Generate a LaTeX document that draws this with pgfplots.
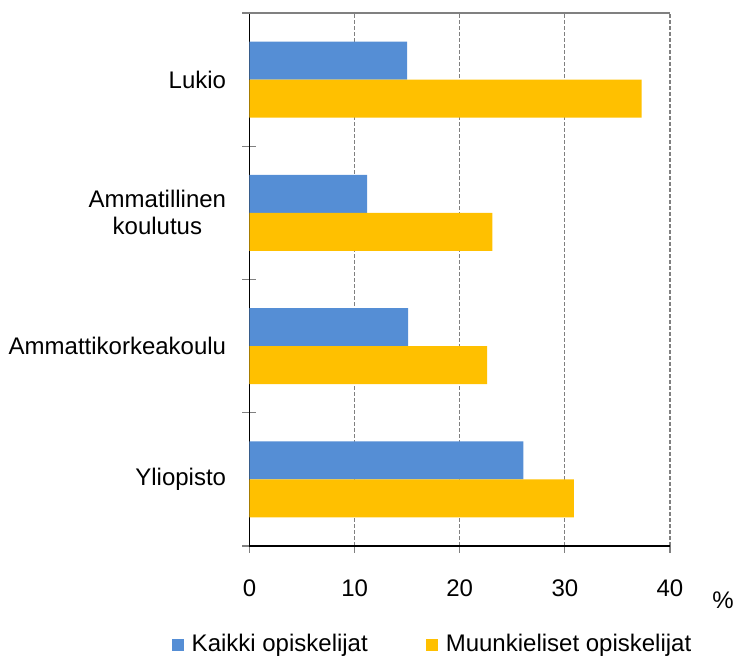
\documentclass[border=0pt]{standalone}
\usepackage{fontspec}
\setmainfont{Liberation Sans}
\usepackage{pgfplots}
\pgfplotsset{compat=1.18}
\definecolor{cblue}{RGB}{85,142,213}
\definecolor{cyellow}{RGB}{255,192,0}
\definecolor{gridgray}{RGB}{128,128,128}
\begin{document}
\fontsize{12}{13.5}\selectfont
\begin{tikzpicture}
\begin{axis}[
  scale only axis, width=210.25pt, height=266.5pt,
  xmin=0, xmax=40, ymin=-0.5, ymax=3.5,
  xbar, bar width=19pt,
  /pgf/number format/assume math mode=true,
  axis lines=left,
  axis line style={-, black, line width=0.6pt},
  xtick={0,10,20,30,40},
  ytick={0,1,2,3},
  yticklabels={Yliopisto, Ammattikorkeakoulu, {Ammatillinen\\koulutus}, Lukio},
  yticklabel style={align=center, xshift=-4pt, font=\fontsize{12}{13.5}\selectfont},
  xticklabel style={yshift=-9pt, font=\fontsize{12}{13.5}\selectfont},
  minor ytick={-0.5,0.5,1.5,2.5,3.5},
  tick align=outside,
  major tick length=3.5pt,
  minor tick length=7pt,
  major y tick style={draw=none},
  minor y tick style={gridgray, line width=0.6pt, xshift=3.5pt},
  major x tick style={gridgray, line width=0.6pt},
  xmajorgrids,
  major x grid style={gridgray, dash pattern=on 2pt off 1pt, line width=0.6pt},
  xlabel={\%},
  xlabel style={at={(rel axis cs:1,0)}, anchor=center, xshift=26.5pt, yshift=-27pt, font=\fontsize{12}{13.5}\selectfont},
  legend style={at={(0.4376,-0.185)}, anchor=center, draw=none, fill=none,
    legend columns=2, font=\fontsize{12}{13.5}\selectfont,
    /tikz/every even column/.append style={column sep=27pt},
    nodes={inner sep=2pt}},
  legend cell align=left,
  legend image code/.code={\fill[#1] (0pt,-3pt) rectangle (6pt,3pt);},
  /tikz/every odd column/.append style={column sep=2pt},
  clip=false,
]
\addplot[fill=cblue, draw=none, bar shift=9.5pt] coordinates {(15.0,3) (11.2,2) (15.1,1) (26.05,0)};
\addplot[fill=cyellow, draw=none, bar shift=-9.5pt] coordinates {(37.3,3) (23.1,2) (22.6,1) (30.85,0)};
\legend{Kaikki opiskelijat, Muunkieliset opiskelijat}
\draw[gridgray, line width=0.6pt] (rel axis cs:0,1) -- (rel axis cs:1,1);
\coordinate (sw) at (rel axis cs:0,0);
\end{axis}
\pgfresetboundingbox
\path (sw) ++(-124.75pt,-55.5pt) rectangle ++(367.5pt,328.5pt);
\end{tikzpicture}
\end{document}
